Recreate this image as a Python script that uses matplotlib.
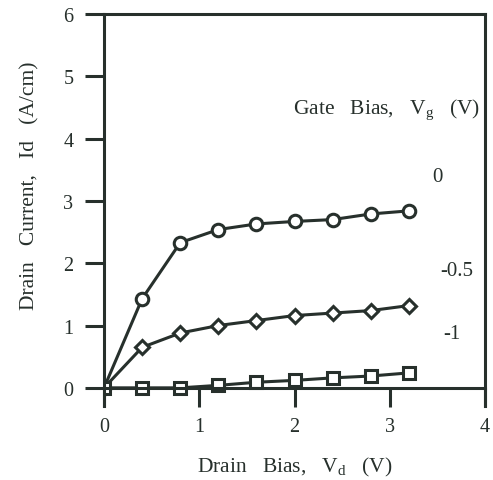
import matplotlib
matplotlib.use("Agg")
import matplotlib.pyplot as plt

plt.rcParams["font.family"] = "Liberation Serif"
plt.rcParams["mathtext.fontset"] = "custom"
plt.rcParams["mathtext.rm"] = "Liberation Serif"
plt.rcParams["mathtext.it"] = "Liberation Serif"

# drain bias (V)
vd = [0, 0.4, 0.8, 1.2, 1.6, 2.0, 2.4, 2.8, 3.2]
# drain current (A/cm) for each gate bias
id_vg0 = [0, 1.43, 2.33, 2.54, 2.63, 2.67, 2.70, 2.79, 2.84]
id_vg05 = [0, 0.65, 0.88, 1.00, 1.08, 1.16, 1.20, 1.24, 1.32]
id_vg1 = [0, 0, 0, 0.04, 0.09, 0.12, 0.16, 0.19, 0.24]
gate_labels = ["0", "-0.5", "-1"]

ink = "#27302c"

fig = plt.figure(figsize=(4.93, 4.81), dpi=100)
ax = fig.add_axes([0.211, 0.154, 0.773, 0.815])

common = dict(color=ink, lw=2.2, markerfacecolor="white", markeredgecolor=ink, markeredgewidth=2.2)
ax.plot(vd, id_vg0, marker="o", ms=9, **common)
ax.plot(vd, id_vg05, marker="D", ms=7.5, **common)
ax.plot(vd, id_vg1, marker="s", ms=9, **common)

ax.set_xlim(0, 4)
ax.set_ylim(-0.29, 6)
ax.spines["bottom"].set_position(("data", 0))
for s in ax.spines.values():
    s.set_color(ink)
    s.set_linewidth(2.2)

ax.set_xticks([0, 1, 2, 3, 4])
ax.set_yticks([0, 1, 2, 3, 4, 5, 6])
ax.tick_params(direction="out", length=14, width=2.2, color=ink, labelcolor=ink, labelsize=14.5, pad=8)
ax.tick_params(axis="x", pad=7)

ax.set_xlabel(r"Drain   Bias,   V$_{\rm d}$   (V)", fontsize=15.5, color=ink)
ax.xaxis.set_label_coords(0.5, -0.125)
ax.set_ylabel(r"Drain   Current,   Id   (A/cm)", fontsize=15.5, color=ink)
ax.yaxis.set_label_coords(-0.17, 0.565)

ax.text(2.97, 4.48, r"Gate   Bias,   V$_{\rm g}$   (V)", fontsize=15.5, color=ink, ha="center", va="center")
label_pos = [(3.5, 3.39), (3.70, 1.88), (3.65, 0.87)]
for lab, (x, y) in zip(gate_labels, label_pos):
    ax.text(x, y, lab, fontsize=15, color=ink, ha="center", va="center")

fig.savefig("out.png", dpi=100, facecolor="white")
